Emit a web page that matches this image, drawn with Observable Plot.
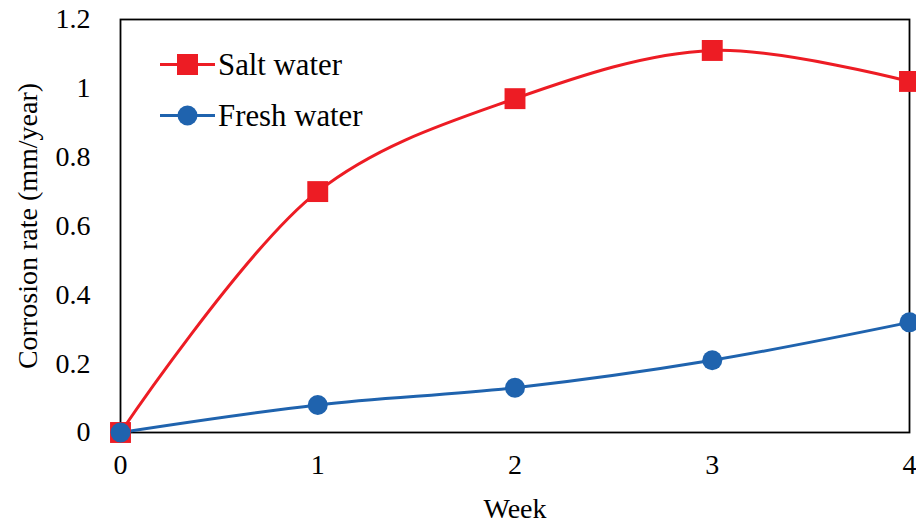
<!DOCTYPE html>
<html>
<head>
<meta charset="utf-8">
<script src="https://cdn.jsdelivr.net/npm/d3@7"></script>
<script src="https://cdn.jsdelivr.net/npm/@observablehq/plot@0.6"></script>
</head>
<body style="margin:0;font-size:28px">
<div id="wrap" style="position:relative;width:916px;height:531px;overflow:hidden;background:#fff">
  <div id="legend" style="position:absolute;left:160px;top:38.5px;font-family:'Liberation Serif';font-size:28px;color:#000">
    <div class="row" style="display:flex;align-items:center;height:51px;line-height:51px;white-space:nowrap"><span class="sw"></span><span class="lbl" style="display:inline-block;transform:scale(1.1);transform-origin:left center">Salt water</span></div>
    <div class="row" style="display:flex;align-items:center;height:51px;line-height:51px;white-space:nowrap"><span class="sw"></span><span class="lbl" style="display:inline-block;transform:scale(1.1);transform-origin:left center">Fresh water</span></div>
  </div>
</div>
<script>
const weeks = [0, 1, 2, 3, 4];
const saltWater = [0, 0.70, 0.97, 1.11, 1.02];
const freshWater = [0, 0.08, 0.13, 0.21, 0.32];
const seriesNames = ["Salt water", "Fresh water"];
const seriesColors = ["#ED1C24", "#1F63AE"];
const seriesSymbols = ["square", "circle"];
const yTicks = [0, 0.2, 0.4, 0.6, 0.8, 1, 1.2];
const xLabel = "Week";
const yLabel = "Corrosion rate (mm/year)";

const rows = [];
weeks.forEach((w, i) => {
  rows.push({week: w, value: saltWater[i], series: seriesNames[0]});
  rows.push({week: w, value: freshWater[i], series: seriesNames[1]});
});
const saltRows = rows.filter(d => d.series === seriesNames[0]);
const freshRows = rows.filter(d => d.series === seriesNames[1]);

const chart = Plot.plot({
  width: 916,
  height: 531,
  marginLeft: 120,
  marginRight: 7,
  marginTop: 19,
  marginBottom: 99,
  style: "font-family: 'Liberation Serif'; font-size: 28px; color: #000; background: #fff; overflow: visible;",
  x: {domain: [0, 4]},
  y: {domain: [0, 1.2]},
  marks: [
    Plot.frame({stroke: "#000", strokeWidth: 1.8}),
    Plot.axisX({ticks: weeks, tickSize: 0, tickPadding: 22, tickFormat: d => String(d), label: null, fontSize: 28}),
    Plot.axisY({ticks: yTicks, tickSize: 0, tickPadding: 30, tickFormat: d => String(d), label: null, fontSize: 28}),
    Plot.text([xLabel], {text: d => d, frameAnchor: "bottom", dy: 85, fontSize: 28, fill: "#000", textAnchor: "middle", ariaLabel: "x-title"}),
    Plot.text([yLabel], {text: d => d, frameAnchor: "left", dx: -92, rotate: -90, fontSize: 28, fill: "#000", textAnchor: "middle", ariaLabel: "y-title"}),
    Plot.line(freshRows, {x: "week", y: "value", stroke: seriesColors[1], strokeWidth: 3, curve: "catmull-rom"}),
    Plot.line(saltRows, {x: "week", y: "value", stroke: seriesColors[0], strokeWidth: 3, curve: "catmull-rom"}),
    Plot.dot(saltRows, {x: "week", y: "value", symbol: "square", r: 11.8, fill: seriesColors[0], stroke: "none"}),
    Plot.dot(freshRows, {x: "week", y: "value", symbol: "circle", r: 10, fill: seriesColors[1], stroke: "none"})
  ]
});
const wrap = document.getElementById("wrap");
wrap.insertBefore(chart, wrap.firstChild);

// Enlarge axis titles slightly (keeping the 28px font selection)
[["x-title", 1.08], ["y-title", 1.12]].forEach(([label, k]) => {
  chart.querySelectorAll(`g[aria-label="${label}"] text`).forEach(t => {
    t.setAttribute("text-anchor", "middle");
    const tr = t.getAttribute("transform");
    if (tr) {
      t.setAttribute("transform", tr + ` scale(${k})`);
    } else {
      t.style.transformBox = "fill-box";
      t.style.transformOrigin = "center";
      t.style.transform = `scale(${k})`;
    }
  });
});

// Legend swatches and labels from the series arrays
const ns = "http://www.w3.org/2000/svg";
document.querySelectorAll("#legend .row").forEach((row, i) => {
  row.querySelector(".lbl").textContent = seriesNames[i];
  const sw = document.createElementNS(ns, "svg");
  sw.setAttribute("width", 55);
  sw.setAttribute("height", 51);
  sw.style.display = "block";
  sw.style.marginRight = "3px";
  const line = document.createElementNS(ns, "line");
  line.setAttribute("x1", 0); line.setAttribute("x2", 55);
  line.setAttribute("y1", 25.5); line.setAttribute("y2", 25.5);
  line.setAttribute("stroke", seriesColors[i]); line.setAttribute("stroke-width", 3);
  sw.appendChild(line);
  const sym = d3.symbol(seriesSymbols[i] === "square" ? d3.symbolSquare : d3.symbolCircle, seriesSymbols[i] === "square" ? 441 : 314)();
  const p = document.createElementNS(ns, "path");
  p.setAttribute("d", sym);
  p.setAttribute("transform", "translate(27.5,25.5)");
  p.setAttribute("fill", seriesColors[i]);
  sw.appendChild(p);
  row.replaceChild(sw, row.querySelector(".sw"));
});
</script>
</body>
</html>
